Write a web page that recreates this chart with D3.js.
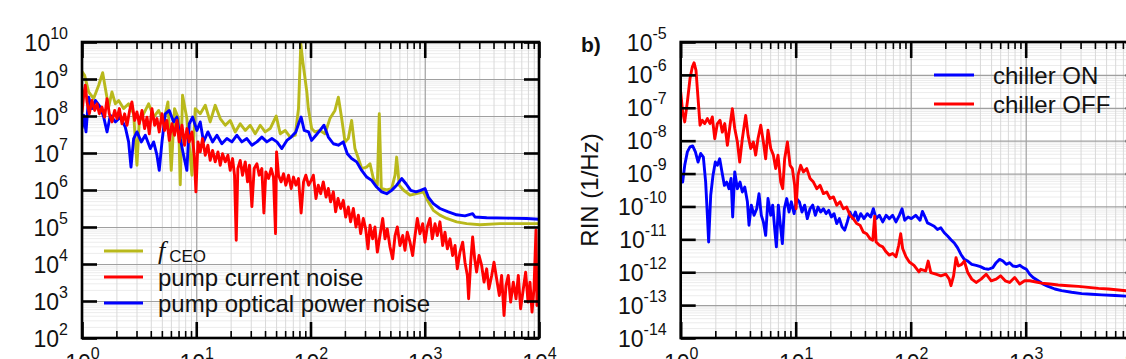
<!DOCTYPE html>
<meta charset="utf-8">
<script src="https://d3js.org/d3.v7.min.js"></script>
<style>
  body { margin: 0; background: #fff; }
  svg { display: block; }
</style>
<div id="chart"></div>
<script>

// all series are stored as [log10 frequency (Hz), log10 value]
// panel a) : noise spectra
var fceo = [[0,9.2],[0.023,9.1],[0.058,8.65],[0.102,8.47],[0.146,8.83],[0.181,9.17],[0.21,8.65],[0.233,8.24],[0.262,8.65],[0.292,8.33],[0.321,8.42],[0.364,8.2],[0.408,8.33],[0.452,8.06],[0.481,6.67],[0.501,7.84],[0.539,8.06],[0.583,8.33],[0.627,7.97],[0.671,8.15],[0.714,7.84],[0.752,8.38],[0.781,6.53],[0.81,8.2],[0.845,7.93],[0.86,6.14],[0.88,8.56],[0.918,7.93],[0.962,6.4],[0.991,8.2],[1.035,8.06],[1.079,8.29],[1.122,7.84],[1.166,8.29],[1.21,7.93],[1.254,7.75],[1.297,7.88],[1.341,7.57],[1.385,7.79],[1.429,7.61],[1.472,7.75],[1.516,7.52],[1.56,7.75],[1.603,7.57],[1.647,7.66],[1.7,8.0],[1.735,7.52],[1.778,7.61],[1.822,7.43],[1.866,7.48],[1.895,8.2],[1.915,9.95],[1.933,9.46],[1.968,8.65],[1.981,8.2],[2.01,7.66],[2.039,7.57],[2.083,7.61],[2.127,7.52],[2.17,7.93],[2.214,8.15],[2.244,8.51],[2.273,7.93],[2.302,7.3],[2.331,7.39],[2.36,7.88],[2.389,7.12],[2.419,6.85],[2.448,6.58],[2.492,6.62],[2.521,6.71],[2.55,6.31],[2.585,6.13],[2.602,8.06],[2.62,6.04],[2.667,6.0],[2.71,6.04],[2.74,6.4],[2.754,6.89],[2.777,6.13],[2.813,6.0],[2.871,5.86],[2.929,5.9],[2.988,5.95],[3.031,5.68],[3.075,5.45],[3.133,5.32],[3.192,5.23],[3.279,5.14],[3.367,5.09],[3.484,5.06],[3.659,5.09],[3.834,5.09],[4.0,5.09]];

var pumpOptical = [[0,7.66],[0.015,8.02],[0.035,7.57],[0.058,8.51],[0.087,8.2],[0.117,8.42],[0.16,8.24],[0.19,7.97],[0.219,7.57],[0.248,8.02],[0.292,7.84],[0.335,7.97],[0.379,7.7],[0.408,7.3],[0.429,6.62],[0.452,7.39],[0.481,7.57],[0.519,7.3],[0.554,7.48],[0.598,7.12],[0.627,7.3],[0.656,6.94],[0.676,6.53],[0.7,7.3],[0.729,8.06],[0.764,8.15],[0.802,7.84],[0.831,7.97],[0.86,7.39],[0.889,6.94],[0.918,6.53],[0.939,7.79],[0.968,7.97],[1.006,7.61],[1.035,7.84],[1.064,7.3],[1.102,7.57],[1.143,7.3],[1.181,7.48],[1.224,7.25],[1.268,7.39],[1.312,7.3],[1.356,7.48],[1.399,7.3],[1.443,7.39],[1.487,7.21],[1.531,7.3],[1.574,7.43],[1.618,7.3],[1.662,7.39],[1.706,7.3],[1.749,7.12],[1.793,7.34],[1.831,7.43],[1.872,7.57],[1.901,7.84],[1.918,7.97],[1.945,7.61],[1.983,7.57],[2.01,7.34],[2.048,7.48],[2.083,7.61],[2.118,7.75],[2.156,7.43],[2.2,7.25],[2.244,7.21],[2.287,7.3],[2.322,6.98],[2.36,6.85],[2.404,6.76],[2.448,6.53],[2.492,6.35],[2.535,6.26],[2.579,6.08],[2.623,5.95],[2.667,5.9],[2.71,5.99],[2.754,6.13],[2.798,6.31],[2.836,6.17],[2.877,5.99],[2.923,5.95],[2.964,5.99],[3.002,6.04],[3.031,5.81],[3.075,5.63],[3.133,5.5],[3.206,5.41],[3.279,5.33],[3.352,5.3],[3.419,5.36],[3.44,5.27],[3.542,5.25],[3.717,5.24],[3.892,5.23],[4.0,5.21]];

var pumpCurrent = [[0,8.1],[0.015,8.56],[0.029,8.83],[0.044,8.38],[0.064,8.06],[0.087,8.42],[0.111,8.15],[0.131,8.33],[0.152,8.06],[0.175,8.24],[0.198,7.97],[0.219,8.47],[0.239,8.06],[0.262,7.84],[0.286,8.15],[0.306,7.93],[0.327,8.2],[0.35,7.79],[0.373,8.06],[0.394,7.75],[0.417,8.15],[0.437,8.38],[0.461,7.88],[0.481,8.11],[0.501,7.79],[0.525,8.15],[0.548,7.66],[0.569,7.97],[0.589,7.52],[0.612,8.2],[0.636,7.75],[0.656,7.93],[0.676,7.57],[0.7,8.06],[0.723,7.61],[0.743,7.88],[0.764,7.34],[0.787,7.79],[0.81,7.48],[0.831,7.88],[0.851,7.3],[0.875,7.75],[0.898,7.21],[0.918,7.66],[0.939,7.3],[0.962,7.57],[0.983,6.92],[0.997,5.95],[1.015,7.3],[1.035,7.03],[1.055,7.39],[1.079,6.94],[1.102,7.21],[1.122,6.8],[1.143,7.07],[1.166,6.76],[1.19,7.03],[1.21,6.67],[1.23,6.98],[1.254,6.76],[1.277,6.94],[1.297,6.53],[1.318,6.85],[1.335,6.4],[1.35,4.64],[1.364,6.58],[1.385,6.8],[1.405,6.4],[1.429,6.76],[1.449,6.22],[1.466,6.67],[1.487,5.55],[1.507,6.58],[1.531,6.71],[1.551,6.4],[1.574,6.58],[1.592,5.38],[1.609,6.49],[1.633,6.31],[1.656,6.58],[1.676,6.35],[1.694,4.82],[1.703,7.03],[1.72,6.4],[1.743,6.22],[1.764,6.44],[1.784,6.13],[1.808,6.4],[1.831,6.04],[1.851,6.35],[1.872,6.13],[1.895,6.31],[1.918,5.38],[1.939,6.22],[1.959,6.4],[1.983,6.13],[2.006,6.26],[2.025,6.4],[2.048,5.77],[2.068,6.13],[2.089,5.9],[2.112,6.22],[2.136,5.81],[2.156,6.04],[2.176,5.68],[2.2,5.95],[2.22,5.41],[2.241,5.77],[2.264,5.5],[2.287,5.72],[2.308,5.27],[2.331,5.54],[2.351,5.14],[2.375,5.5],[2.398,5.0],[2.419,5.32],[2.439,4.82],[2.462,5.23],[2.483,4.95],[2.503,4.41],[2.521,5.05],[2.544,4.68],[2.564,5.0],[2.585,4.32],[2.608,4.77],[2.632,5.23],[2.652,4.68],[2.672,4.95],[2.696,4.46],[2.719,4.14],[2.74,4.77],[2.76,5.0],[2.783,4.5],[2.807,4.77],[2.827,4.37],[2.847,4.86],[2.871,4.59],[2.894,4.23],[2.915,4.77],[2.935,5.23],[2.958,4.82],[2.982,5.09],[3.002,4.59],[3.022,5.0],[3.046,5.23],[3.066,4.68],[3.09,5.09],[3.11,4.77],[3.133,5.14],[3.157,4.5],[3.177,4.86],[3.198,4.41],[3.221,4.68],[3.244,4.23],[3.265,4.5],[3.285,3.87],[3.308,4.32],[3.332,4.59],[3.352,4.05],[3.373,3.69],[3.384,3.06],[3.402,4.05],[3.419,4.73],[3.437,4.14],[3.454,3.78],[3.475,4.23],[3.498,3.96],[3.519,3.51],[3.542,3.87],[3.562,3.33],[3.586,3.69],[3.606,4.05],[3.629,3.6],[3.653,3.15],[3.673,3.69],[3.694,2.61],[3.711,3.42],[3.731,3.69],[3.752,2.97],[3.775,3.51],[3.799,3.06],[3.819,3.69],[3.839,2.79],[3.863,3.33],[3.883,3.78],[3.904,2.97],[3.921,3.51],[3.939,2.7],[3.956,3.33],[3.974,4.92],[3.982,2.88],[3.994,3.51],[4.0,3.69]];

// panel b) : relative intensity noise
var chillerOn = [[0,-9.05],[0.017,-9.26],[0.035,-8.75],[0.058,-8.34],[0.081,-8.19],[0.104,-8.16],[0.128,-8.34],[0.151,-8.65],[0.174,-8.39],[0.197,-8.5],[0.217,-9.26],[0.232,-10.27],[0.243,-11.08],[0.261,-9.66],[0.281,-9.05],[0.301,-8.65],[0.319,-8.75],[0.339,-8.55],[0.359,-8.95],[0.38,-9.36],[0.4,-9.26],[0.42,-9.46],[0.438,-9.15],[0.452,-10.32],[0.47,-8.95],[0.493,-9.46],[0.516,-9.26],[0.536,-9.56],[0.557,-9.41],[0.58,-9.86],[0.594,-10.57],[0.614,-9.96],[0.638,-10.27],[0.661,-10.07],[0.681,-9.61],[0.701,-10.27],[0.719,-10.47],[0.739,-10.88],[0.759,-9.76],[0.783,-10.27],[0.8,-9.96],[0.817,-10.67],[0.832,-11.23],[0.849,-9.96],[0.87,-10.67],[0.884,-11.13],[0.901,-10.07],[0.922,-9.76],[0.942,-10.17],[0.962,-9.86],[0.986,-10.22],[1.009,-9.76],[1.032,-9.86],[1.055,-10.17],[1.078,-9.96],[1.101,-10.37],[1.125,-10.07],[1.148,-9.96],[1.171,-10.27],[1.194,-10.02],[1.217,-10.17],[1.241,-10.07],[1.264,-10.22],[1.287,-10.12],[1.31,-10.32],[1.333,-10.22],[1.357,-10.52],[1.38,-10.37],[1.403,-10.62],[1.426,-10.72],[1.449,-10.47],[1.472,-10.17],[1.496,-10.37],[1.519,-10.17],[1.542,-10.42],[1.565,-10.22],[1.594,-10.37],[1.623,-10.22],[1.652,-10.32],[1.675,-10.07],[1.699,-10.37],[1.728,-10.27],[1.757,-10.47],[1.786,-10.27],[1.814,-10.37],[1.843,-10.27],[1.872,-10.47],[1.901,-10.27],[1.925,-10.07],[1.948,-10.42],[1.977,-10.32],[2.006,-10.37],[2.043,-10.27],[2.081,-10.42],[2.102,-10.15],[2.122,-10.3],[2.146,-10.5],[2.175,-10.55],[2.204,-10.6],[2.233,-10.7],[2.262,-10.65],[2.292,-10.8],[2.321,-10.9],[2.35,-11.01],[2.379,-11.11],[2.408,-11.26],[2.437,-11.46],[2.466,-11.61],[2.496,-11.66],[2.531,-11.76],[2.569,-11.79],[2.606,-11.83],[2.641,-11.89],[2.676,-11.91],[2.714,-11.86],[2.743,-11.71],[2.773,-11.61],[2.802,-11.66],[2.831,-11.76],[2.86,-11.71],[2.889,-11.81],[2.918,-11.83],[2.948,-11.79],[2.977,-11.86],[3.006,-11.91],[3.035,-12.06],[3.064,-12.16],[3.108,-12.26],[3.152,-12.36],[3.195,-12.43],[3.254,-12.51],[3.312,-12.56],[3.399,-12.61],[3.487,-12.65],[3.574,-12.67],[3.662,-12.69],[3.778,-12.71],[3.889,-12.73],[4.0,-12.75]];

var chillerOff = [[0,-6.52],[0.017,-7.13],[0.035,-7.43],[0.058,-6.82],[0.081,-6.11],[0.101,-5.76],[0.116,-5.63],[0.133,-5.86],[0.151,-6.72],[0.168,-7.53],[0.188,-7.38],[0.209,-7.48],[0.232,-7.33],[0.255,-7.48],[0.275,-7.28],[0.296,-7.94],[0.319,-7.48],[0.342,-7.38],[0.362,-7.74],[0.383,-7.48],[0.406,-8.14],[0.429,-7.53],[0.449,-7.03],[0.47,-7.63],[0.493,-8.04],[0.513,-8.65],[0.536,-7.94],[0.565,-7.23],[0.586,-7.84],[0.609,-8.24],[0.632,-8.04],[0.652,-8.44],[0.672,-7.94],[0.696,-7.53],[0.719,-8.04],[0.739,-8.55],[0.759,-7.68],[0.783,-8.24],[0.806,-8.44],[0.826,-8.85],[0.846,-8.44],[0.87,-9.26],[0.887,-9.46],[0.904,-8.55],[0.928,-8.04],[0.951,-8.75],[0.971,-8.85],[0.991,-9.36],[1.003,-10.07],[1.02,-9.05],[1.043,-8.75],[1.067,-8.95],[1.096,-8.85],[1.125,-9.15],[1.154,-9.26],[1.183,-9.46],[1.212,-9.36],[1.241,-9.61],[1.27,-9.56],[1.299,-9.76],[1.328,-9.71],[1.357,-9.96],[1.386,-9.86],[1.414,-10.07],[1.443,-10.02],[1.472,-10.27],[1.501,-10.37],[1.53,-10.52],[1.559,-10.57],[1.588,-10.78],[1.617,-10.83],[1.646,-10.98],[1.67,-11.03],[1.687,-10.3],[1.699,-11.08],[1.728,-11.18],[1.757,-11.23],[1.786,-11.38],[1.814,-11.48],[1.843,-11.43],[1.872,-11.53],[1.896,-11.18],[1.913,-10.83],[1.93,-11.28],[1.959,-11.53],[1.988,-11.69],[2.029,-11.79],[2.072,-11.99],[2.087,-11.91],[2.131,-11.96],[2.152,-11.66],[2.175,-12.01],[2.219,-12.06],[2.262,-12.11],[2.306,-12.06],[2.335,-12.21],[2.35,-12.41],[2.373,-12.11],[2.394,-11.56],[2.414,-11.81],[2.443,-11.76],[2.466,-11.66],[2.496,-12.01],[2.531,-12.21],[2.569,-12.31],[2.612,-12.21],[2.656,-12.06],[2.7,-12.26],[2.743,-12.21],[2.781,-12.11],[2.822,-12.26],[2.86,-12.31],[2.904,-12.16],[2.948,-12.36],[2.991,-12.26],[3.035,-12.26],[3.079,-12.29],[3.137,-12.33],[3.21,-12.36],[3.283,-12.39],[3.37,-12.41],[3.458,-12.43],[3.545,-12.46],[3.633,-12.49],[3.72,-12.51],[3.808,-12.54],[3.889,-12.57],[4.0,-12.6]];

// axis decades (exponents)
var xExps = [0, 1, 2, 3, 4];
var yExpsA = [2, 3, 4, 5, 6, 7, 8, 9, 10];
var yExpsB = [-14, -13, -12, -11, -10, -9, -8, -7, -6, -5];

var legendA = [
  {key: "fceo", label: "CEO", color: "#b9b91c"},
  {key: "current", label: "pump current noise", color: "#ff0000"},
  {key: "optical", label: "pump optical power noise", color: "#0000ff"}
];
var legendB = [
  {label: "chiller ON", color: "#0000ff"},
  {label: "chiller OFF", color: "#ff0000"}
];

var font = "'Liberation Sans', Arial, sans-serif";

var svg = d3.select("#chart")
  .append("svg")
    .attr("width", 1126)
    .attr("height", 359)
    .style("font-family", font);

function supLabel(sel, e) {
  sel.text("10");
  sel.append("tspan")
    .attr("dy", -12)
    .attr("font-size", 16)
    .text(e < 0 ? "-" + (-e) : "" + e);
}

function drawPanel(p) {
  var x = d3.scaleLog().domain([1, 1e4]).range([p.left, p.right]);
  var y = d3.scaleLog()
    .domain([Math.pow(10, p.yExps[0]), Math.pow(10, p.yExps[p.yExps.length - 1])])
    .range([p.bottom, p.top]);
  var w = p.right - p.left, h = p.bottom - p.top;

  var majorX = xExps.map(function(e) { return Math.pow(10, e); });
  var majorY = p.yExps.map(function(e) { return Math.pow(10, e); });
  var minorX = [], minorY = [];
  xExps.slice(0, -1).forEach(function(e) {
    for (var k = 2; k <= 9; k++) minorX.push(k * Math.pow(10, e));
  });
  p.yExps.slice(0, -1).forEach(function(e) {
    for (var k = 2; k <= 9; k++) minorY.push(k * Math.pow(10, e));
  });

  var g = svg.append("g");

  function grid(axis, tr, color, width) {
    var a = g.append("g").attr("transform", tr).call(axis);
    a.select(".domain").remove();
    a.selectAll("line").attr("stroke", color).attr("stroke-width", width);
  }
  // grid lines
  grid(d3.axisLeft(y).tickValues(minorY).tickSize(-w).tickFormat(""),
       "translate(" + p.left + ",0)", "#ececec", 1);
  grid(d3.axisBottom(x).tickValues(minorX).tickSize(-h).tickFormat(""),
       "translate(0," + p.bottom + ")", "#d9d9d9", 1);
  grid(d3.axisLeft(y).tickValues(majorY).tickSize(-w).tickFormat(""),
       "translate(" + p.left + ",0)", "#a0a0a0", 1.2);
  grid(d3.axisBottom(x).tickValues(majorX).tickSize(-h).tickFormat(""),
       "translate(0," + p.bottom + ")", "#a0a0a0", 1.2);

  // data
  svg.append("clipPath").attr("id", "clip" + p.id)
    .append("rect")
      .attr("x", p.left).attr("y", p.top)
      .attr("width", w).attr("height", h);

  var line = d3.line()
    .x(function(d) { return x(Math.pow(10, d[0])); })
    .y(function(d) { return y(Math.pow(10, d[1])); });

  var lines = g.append("g").attr("clip-path", "url(#clip" + p.id + ")");
  p.series.forEach(function(s) {
    lines.append("path")
      .datum(s.data)
      .attr("fill", "none")
      .attr("stroke", s.color)
      .attr("stroke-width", 2.9)
      .attr("stroke-linejoin", "round")
      .attr("d", line);
  });

  // ticks, inward on all four sides
  function ticks(axis, tr, width) {
    var a = g.append("g").attr("transform", tr).call(axis);
    a.select(".domain").remove();
    a.selectAll("line").attr("stroke", "#000").attr("stroke-width", width);
  }
  ticks(d3.axisBottom(x).tickValues(minorX).tickSize(-7).tickFormat(""), "translate(0," + p.bottom + ")", 1.6);
  ticks(d3.axisTop(x).tickValues(minorX).tickSize(-7).tickFormat(""), "translate(0," + p.top + ")", 1.6);
  ticks(d3.axisBottom(x).tickValues(majorX).tickSize(-16).tickFormat(""), "translate(0," + p.bottom + ")", 2.6);
  ticks(d3.axisTop(x).tickValues(majorX).tickSize(-16).tickFormat(""), "translate(0," + p.top + ")", 2.6);
  ticks(d3.axisLeft(y).tickValues(majorY).tickSize(-15).tickFormat(""), "translate(" + p.left + ",0)", 2.6);
  ticks(d3.axisRight(y).tickValues(majorY).tickSize(-15).tickFormat(""), "translate(" + p.right + ",0)", 2.6);

  // frame
  g.append("rect")
    .attr("x", p.left).attr("y", p.top)
    .attr("width", w).attr("height", h)
    .attr("fill", "none")
    .attr("stroke", "#000")
    .attr("stroke-width", 2.6);

  // tick labels
  var yl = g.append("g")
    .attr("transform", "translate(" + p.left + ",0)")
    .call(d3.axisLeft(y).tickValues(majorY).tickSize(0).tickFormat(""));
  yl.select(".domain").remove();
  yl.attr("font-family", font).attr("font-size", 23);
  yl.selectAll(".tick text")
    .attr("x", -14).attr("dy", null).attr("y", 8)
    .attr("fill", "#111")
    .attr("text-anchor", "end")
    .each(function(d) { supLabel(d3.select(this), Math.round(Math.log10(d))); });

  var xl = g.append("g")
    .attr("transform", "translate(0," + p.bottom + ")")
    .call(d3.axisBottom(x).tickValues(majorX).tickSize(0).tickFormat(""));
  xl.select(".domain").remove();
  xl.attr("font-family", font).attr("font-size", 23);
  xl.selectAll(".tick text")
    .attr("y", 33).attr("dy", null)
    .attr("fill", "#111")
    .attr("text-anchor", "middle")
    .each(function(d) { supLabel(d3.select(this), Math.round(Math.log10(d))); });

  return {x: x, y: y, g: g};
}

// panel a)
var pa = drawPanel({
  id: "a", left: 82, right: 539, top: 42, bottom: 338, yExps: yExpsA,
  series: [
    {data: fceo, color: legendA[0].color},
    {data: pumpOptical, color: legendA[2].color},
    {data: pumpCurrent, color: legendA[1].color}
  ]
});

// legend a)
var legA = pa.g.append("g");
legendA.forEach(function(d, i) {
  var ly = 251 + i * 26;
  legA.append("line")
    .attr("x1", 104).attr("x2", 143).attr("y1", ly).attr("y2", ly)
    .attr("stroke", d.color).attr("stroke-width", 3);
  var t = legA.append("text")
    .attr("x", 158).attr("y", ly + 9)
    .attr("font-size", 24)
    .attr("fill", "#111");
  if (d.key === "fceo") {
    t.attr("y", ly + 8);
    t.append("tspan")
      .attr("font-family", "'Liberation Serif', 'Times New Roman', serif")
      .attr("font-style", "italic")
      .attr("font-size", 26)
      .text("f");
    t.append("tspan").attr("dx", 4).attr("dy", 3).attr("font-size", 17).text(d.label);
  } else {
    t.text(d.label);
  }
});

// panel b)
var pb = drawPanel({
  id: "b", left: 680.7, right: 1140.7, top: 42, bottom: 338, yExps: yExpsB,
  series: [
    {data: chillerOn, color: legendB[0].color},
    {data: chillerOff, color: legendB[1].color}
  ]
});

var legB = pb.g.append("g");
legendB.forEach(function(d, i) {
  var ly = 75 + i * 29;
  legB.append("line")
    .attr("x1", 934).attr("x2", 974).attr("y1", ly).attr("y2", ly)
    .attr("stroke", d.color).attr("stroke-width", 3);
  legB.append("text")
    .attr("x", 993).attr("y", ly + 9)
    .attr("font-size", 24)
    .attr("fill", "#111")
    .text(d.label);
});

// y axis title and panel tag
svg.append("text")
  .attr("transform", "translate(598,190) rotate(-90)")
  .attr("text-anchor", "middle")
  .attr("font-size", 24)
  .attr("fill", "#111")
  .text("RIN (1/Hz)");

svg.append("text")
  .attr("x", 581).attr("y", 52)
  .attr("font-size", 21)
  .attr("font-weight", "bold")
  .attr("fill", "#111")
  .text("b)");

</script>
